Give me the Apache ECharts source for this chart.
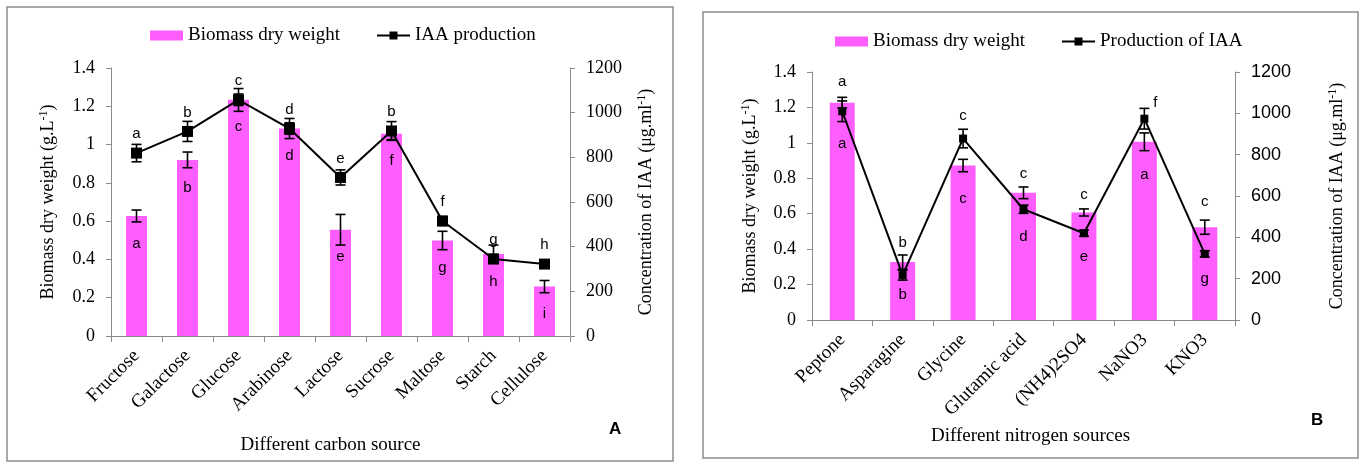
<!DOCTYPE html>
<html><head><meta charset="utf-8">
<script src="https://cdn.jsdelivr.net/npm/echarts@6/dist/echarts.min.js"></script>
<style>html,body{margin:0;padding:0;background:#fff}#c{width:1362px;height:464px}</style>
</head><body><div id="c"></div>
<script>
// ---------- data ----------
const carbonSources = ['Fructose','Galactose','Glucose','Arabinose','Lactose','Sucrose','Maltose','Starch','Cellulose'];
const carbonBiomass = [0.627,0.92,1.234,1.084,0.555,1.056,0.499,0.428,0.258];
const carbonBiomassErr = [0.031,0.041,0.03,0.03,0.08,0.03,0.048,0.047,0.032];
const carbonIAA = [819,916,1057,929,710,918,515,345,322];
const carbonIAAErr = [39,45,51,45,34,42,20,20,10];
const carbonBiomassLetters = ['a','b','c','d','e','f','g','h','i'];
const carbonIAALetters = ['a','b','c','d','e','b','f','g','h'];

const nitrogenSources = ['Peptone','Asparagine','Glycine','Glutamic acid','(NH4)2SO4','NaNO3','KNO3'];
const nitrogenBiomass = [1.227,0.327,0.872,0.718,0.607,1.006,0.524];
const nitrogenBiomassErr = [0.03,0.04,0.035,0.033,0.02,0.05,0.04];
const nitrogenIAA = [1010,217,878,536,420,974,320];
const nitrogenIAAErr = [50,24,45,20,15,50,15];
const nitrogenBiomassLetters = ['a','b','c','c','c','a','c'];
const nitrogenIAALetters = ['a','b','c','d','e','f','g'];

const biomassTicks = [0,0.2,0.4,0.6,0.8,1,1.2,1.4];
const iaaTicks = [0,200,400,600,800,1000,1200];

// ---------- styling ----------
const SERIF = '"Liberation Serif", "Times New Roman", serif';
const SANS = '"Liberation Sans", Arial, sans-serif';
const PINK = '#FF5EFF';
const AXIS = '#8a8a8a';
// label placement per category for panel B: [position, distance, offsetX]
const placeBBar = [['top',13,0],['top',12,0],['insideTop',26,0],['top',11,0],['top',10,0],['insideTop',26,0],['top',18,0]];
const placeBLine = [['bottom',21,0],['bottom',8,0],['top',11,0],['bottom',16,0],['bottom',12,0],['top',4,11],['bottom',13,0]];

const letterStyle = {fontFamily: SANS, fontSize: 15, color: '#000'};

function errBars(xi, yi, vals, errs, cap, z) {
  return {
    type: 'custom', xAxisIndex: xi, yAxisIndex: yi, z: z, silent: true,
    data: vals.map((v, i) => [i, v - errs[i], v + errs[i]]),
    encode: {x: 0, y: [1, 2]},
    renderItem: (p, api) => {
      const lo = api.coord([api.value(0), api.value(1)]);
      const hi = api.coord([api.value(0), api.value(2)]);
      const st = {stroke: '#000', lineWidth: 1.6};
      return {type: 'group', children: [
        {type: 'line', shape: {x1: lo[0], y1: lo[1], x2: hi[0], y2: hi[1]}, style: st},
        {type: 'line', shape: {x1: hi[0] - cap, y1: hi[1], x2: hi[0] + cap, y2: hi[1]}, style: st},
        {type: 'line', shape: {x1: lo[0] - cap, y1: lo[1], x2: lo[0] + cap, y2: lo[1]}, style: st}
      ]};
    }
  };
}

function xAxis(gi, cats, name, gap, pad) {
  return {
    type: 'category', gridIndex: gi, data: cats,
    axisLine: {lineStyle: {color: AXIS, width: 1}},
    axisTick: {show: true, length: 6, lineStyle: {color: AXIS}},
    axisLabel: {rotate: 45, interval: 0, margin: 17, fontFamily: SERIF, fontSize: 19, color: '#000'},
    name: name, nameLocation: 'middle', nameGap: gap,
    nameTextStyle: {fontFamily: SERIF, fontSize: 19, color: '#000', padding: pad}
  };
}
function yAxis(gi, pos, ticks, name, gap, labelFont) {
  return {
    type: 'value', gridIndex: gi, position: pos,
    min: ticks[0], max: ticks[ticks.length - 1], interval: ticks[1] - ticks[0],
    axisLine: {show: true, lineStyle: {color: AXIS}},
    axisTick: {show: true, length: 5, lineStyle: {color: AXIS}},
    splitLine: {show: false},
    axisLabel: {fontFamily: labelFont, fontSize: 18, color: '#000', margin: 16, formatter: v => String(v)},
    name: name, nameLocation: 'middle', nameGap: gap,
    nameTextStyle: {fontFamily: SERIF, fontSize: 18, color: '#000',
      rich: {sup: {fontFamily: SERIF, fontSize: 12, color: '#000', verticalAlign: 'top', padding: [0, 0, 8, 0]}}}
  };
}

const bioName = 'Biomass dry weight (g.L{sup|-1})';
const iaaName = 'Concentration of IAA (μg.ml{sup|-1})';

const option = {
  animation: false,
  backgroundColor: '#fff',
  grid: [
    {left: 111, top: 68, width: 459, height: 268},
    {left: 812, top: 72, width: 423, height: 248}
  ],
  legend: [
    {left: 145, top: 21, itemWidth: 33, itemHeight: 10, itemGap: 36,
     data: [{name: 'Biomass dry weight', icon: 'rect'}, 'IAA production'],
     textStyle: {fontFamily: SERIF, fontSize: 19, color: '#000'}},
    {left: 830, top: 27, itemWidth: 33, itemHeight: 10, itemGap: 36,
     data: [{name: 'Biomass dry weight', icon: 'rect'}, 'Production of IAA'],
     textStyle: {fontFamily: SERIF, fontSize: 19, color: '#000'}}
  ],
  xAxis: [
    xAxis(0, carbonSources, 'Different carbon source', 100, [0, 20, 0, 0]),
    xAxis(1, nitrogenSources, 'Different nitrogen sources', 106, [0, 0, 0, 14])
  ],
  yAxis: [
    yAxis(0, 'left', biomassTicks, bioName, 53, SERIF),
    yAxis(0, 'right', iaaTicks, iaaName, 66, SERIF),
    yAxis(1, 'left', biomassTicks, bioName, 52, SERIF),
    yAxis(1, 'right', iaaTicks, iaaName, 92, SANS)
  ],
  series: [
    {type: 'bar', name: 'Biomass dry weight', xAxisIndex: 0, yAxisIndex: 0, barWidth: 21, z: 2,
     itemStyle: {color: PINK},
     data: carbonBiomass.map((v, i) => ({value: v,
       label: {show: true, formatter: carbonBiomassLetters[i], position: 'insideTop', distance: 20, ...letterStyle}}))},
    errBars(0, 0, carbonBiomass, carbonBiomassErr, 5, 3),
    {type: 'line', name: 'IAA production', xAxisIndex: 0, yAxisIndex: 1, z: 4,
     symbol: 'rect', symbolSize: 11, color: '#000',
     lineStyle: {color: '#000', width: 2}, itemStyle: {color: '#000'},
     data: carbonIAA.map((v, i) => ({value: v,
       label: {show: true, formatter: carbonIAALetters[i], position: 'top', distance: 6, ...letterStyle}}))},
    errBars(0, 1, carbonIAA, carbonIAAErr, 5, 5),

    {type: 'bar', name: 'Biomass dry weight', xAxisIndex: 1, yAxisIndex: 2, barWidth: 25, z: 2,
     itemStyle: {color: PINK},
     data: nitrogenBiomass.map((v, i) => ({value: v,
       label: {show: true, formatter: nitrogenBiomassLetters[i], position: placeBBar[i][0], distance: placeBBar[i][1], offset: [placeBBar[i][2], 0], ...letterStyle}}))},
    errBars(1, 2, nitrogenBiomass, nitrogenBiomassErr, 5, 3),
    {type: 'line', name: 'Production of IAA', xAxisIndex: 1, yAxisIndex: 3, z: 4,
     symbol: 'rect', symbolSize: 8, color: '#000',
     lineStyle: {color: '#000', width: 2}, itemStyle: {color: '#000'},
     data: nitrogenIAA.map((v, i) => ({value: v,
       label: {show: true, formatter: nitrogenIAALetters[i], position: placeBLine[i][0], distance: placeBLine[i][1], offset: [placeBLine[i][2], 0], ...letterStyle}}))},
    errBars(1, 3, nitrogenIAA, nitrogenIAAErr, 5, 5)
  ],
  graphic: [
    {type: 'rect', shape: {x: 7, y: 7, width: 666, height: 454}, style: {fill: 'none', stroke: '#8c8c8c', lineWidth: 1.5}},
    {type: 'rect', shape: {x: 703, y: 12, width: 655, height: 446}, style: {fill: 'none', stroke: '#8c8c8c', lineWidth: 1.5}},
    {type: 'text', x: 609, y: 421, style: {text: 'A', font: 'bold 17px "Liberation Sans", Arial, sans-serif', fill: '#000'}},
    {type: 'text', x: 1311, y: 412, style: {text: 'B', font: 'bold 17px "Liberation Sans", Arial, sans-serif', fill: '#000'}}
  ]
};
const chart = echarts.init(document.getElementById('c'), null, {renderer: 'canvas'});
chart.setOption(option);
</script></body></html>
